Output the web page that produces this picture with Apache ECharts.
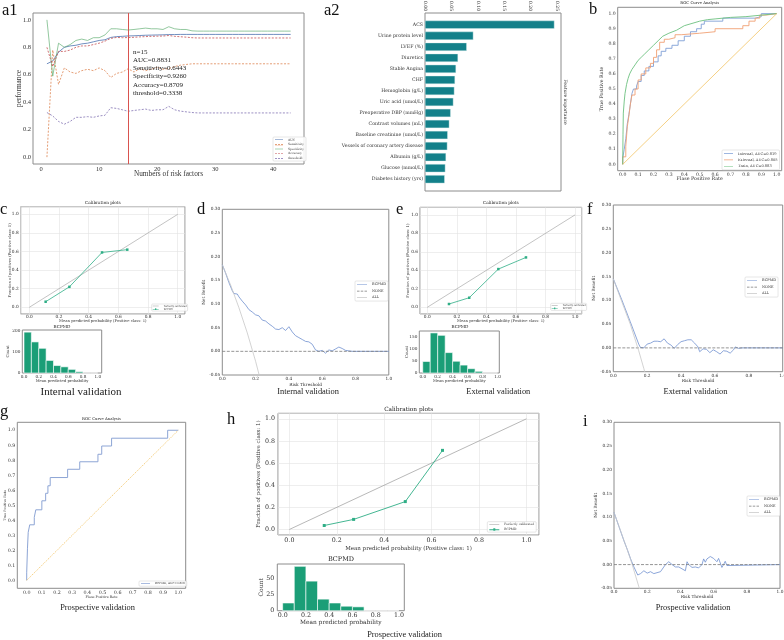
<!DOCTYPE html>
<html><head><meta charset="utf-8">
<script src="https://cdn.jsdelivr.net/npm/echarts@6/dist/echarts.min.js"></script>
<style>html,body{margin:0;padding:0;background:#fff}#c{width:784px;height:640px}</style>
</head><body><div id="c"></div>
<script>
// ================= DATA =================
// a1: performance vs number of risk factors
const riskFactorCounts = [1,2,3,4,5,6,7,8,9,10,11,12,13,14,15,16,17,18,19,20,21,22,23,24,25,26,27,28,29,30,31,32,33,34,35,36,37,38,39,40,41,42,43];
const aucValues = [0.680,0.700,0.765,0.800,0.810,0.815,0.825,0.830,0.840,0.850,0.855,0.872,0.878,0.880,0.883,0.884,0.886,0.888,0.889,0.890,0.891,0.893,0.893,0.894,0.894,0.894,0.894,0.894,0.894,0.894,0.894,0.894,0.894,0.894,0.894,0.894,0.894,0.894,0.894,0.894,0.894,0.894,0.894];
const sensitivityValues = [0.00,0.78,0.53,0.65,0.62,0.61,0.63,0.64,0.63,0.65,0.63,0.58,0.61,0.62,0.644,0.62,0.645,0.63,0.64,0.655,0.64,0.645,0.66,0.67,0.675,0.68,0.68,0.68,0.68,0.68,0.68,0.68,0.68,0.68,0.68,0.68,0.68,0.68,0.68,0.68,0.68,0.68,0.68];
const specificityValues = [1.00,0.59,0.83,0.80,0.82,0.85,0.86,0.85,0.87,0.87,0.89,0.935,0.935,0.93,0.926,0.93,0.935,0.94,0.935,0.935,0.93,0.95,0.935,0.93,0.93,0.92,0.918,0.918,0.918,0.918,0.918,0.918,0.918,0.918,0.918,0.918,0.918,0.918,0.918,0.918,0.918,0.918,0.918];
const accuracyValues = [0.80,0.66,0.77,0.77,0.78,0.80,0.81,0.81,0.82,0.83,0.845,0.865,0.872,0.870,0.871,0.873,0.876,0.878,0.880,0.881,0.882,0.886,0.880,0.877,0.874,0.870,0.868,0.868,0.868,0.868,0.868,0.868,0.868,0.868,0.868,0.868,0.868,0.868,0.868,0.868,0.868,0.868,0.868];
const thresholdValues = [0.325,0.30,0.26,0.24,0.26,0.29,0.29,0.295,0.29,0.30,0.305,0.36,0.355,0.345,0.334,0.34,0.345,0.35,0.34,0.345,0.345,0.37,0.345,0.335,0.33,0.325,0.322,0.322,0.322,0.322,0.322,0.322,0.322,0.322,0.322,0.322,0.322,0.322,0.322,0.322,0.322,0.322,0.322];
const selectedFactorCount = 15;
const a1Annotation = ['n=15','AUC=0.8831','Sensitivity=0.6443','Specificity=0.9260','Accuracy=0.8709','threshold=0.3338'];

// a2: feature importance
const featureNames = ['ACS','Urine protein level','LVEF (%)','Diuretics','Stable Angina','CHF','Hemoglobin (g/L)','Uric acid (umol/L)','Preoperative DBP (mmHg)','Contrast volumes (mL)','Baseline creatinine (umol/L)','Vessels of coronary artery disease','Albumin (g/L)','Glucose (mmol/L)','Diabetes history (yrs)'];
const featureImportance = [0.245,0.0915,0.079,0.0625,0.0587,0.0568,0.0556,0.0537,0.0486,0.046,0.043,0.0423,0.0398,0.0385,0.0373];

// b: ROC curves
const rocInternal = [[0,0],[0,0.04],[0.01,0.04],[0.01,0.10],[0.02,0.10],[0.02,0.17],[0.03,0.17],[0.03,0.27],[0.04,0.27],[0.04,0.33],[0.05,0.33],[0.05,0.40],[0.06,0.40],[0.06,0.47],[0.07,0.47],[0.07,0.50],[0.09,0.50],[0.09,0.52],[0.10,0.52],[0.10,0.55],[0.12,0.55],[0.12,0.59],[0.14,0.59],[0.14,0.62],[0.17,0.62],[0.17,0.65],[0.20,0.65],[0.20,0.68],[0.23,0.68],[0.23,0.72],[0.25,0.72],[0.25,0.75],[0.28,0.75],[0.28,0.77],[0.32,0.77],[0.32,0.79],[0.36,0.79],[0.36,0.82],[0.40,0.82],[0.40,0.85],[0.44,0.85],[0.44,0.88],[0.48,0.88],[0.48,0.90],[0.51,0.90],[0.51,0.93],[0.53,0.93],[0.53,0.95],[0.65,0.95],[0.65,0.97],[0.86,0.97],[0.86,0.98],[0.90,0.98],[0.90,1.0],[1.0,1.0]];
const rocExternal = [[0,0],[0,0.05],[0.02,0.05],[0.02,0.12],[0.03,0.12],[0.03,0.25],[0.04,0.25],[0.04,0.32],[0.05,0.32],[0.05,0.40],[0.06,0.40],[0.06,0.46],[0.08,0.46],[0.08,0.50],[0.10,0.50],[0.10,0.56],[0.12,0.56],[0.12,0.60],[0.15,0.60],[0.15,0.64],[0.18,0.64],[0.18,0.67],[0.20,0.67],[0.20,0.71],[0.22,0.71],[0.22,0.76],[0.24,0.76],[0.24,0.81],[0.27,0.81],[0.27,0.83],[0.30,0.83],[0.30,0.84],[0.34,0.84],[0.34,0.86],[0.38,0.86],[0.38,0.87],[0.50,0.87],[0.50,0.88],[0.60,0.88],[0.60,0.90],[0.78,0.90],[0.78,0.92],[0.82,0.92],[0.82,0.95],[0.86,0.95],[0.86,0.97],[0.89,0.97],[0.89,0.99],[0.93,0.99],[0.93,1.0],[1.0,1.0]];
const rocTrain = [[0,0],[0.002,0.2],[0.004,0.34],[0.01,0.42],[0.015,0.47],[0.025,0.53],[0.035,0.57],[0.045,0.6],[0.06,0.63],[0.08,0.66],[0.1,0.69],[0.12,0.71],[0.14,0.73],[0.17,0.76],[0.2,0.79],[0.23,0.82],[0.26,0.85],[0.3,0.87],[0.35,0.89],[0.4,0.92],[0.45,0.935],[0.5,0.95],[0.55,0.96],[0.6,0.965],[0.7,0.975],[0.8,0.98],[0.9,0.99],[1,1]];
const rocProspective = [[0,0],[0,0.05],[0.005,0.05],[0.005,0.21],[0.01,0.21],[0.01,0.32],[0.02,0.32],[0.02,0.37],[0.05,0.37],[0.05,0.42],[0.06,0.42],[0.06,0.47],[0.1,0.47],[0.1,0.53],[0.125,0.53],[0.125,0.58],[0.14,0.58],[0.14,0.63],[0.155,0.63],[0.155,0.685],[0.27,0.685],[0.27,0.74],[0.35,0.74],[0.35,0.79],[0.47,0.79],[0.47,0.84],[0.495,0.84],[0.495,0.895],[0.56,0.895],[0.56,0.947],[0.93,0.947],[0.93,1.0],[1,1]];
const diagonalLine = [[0,0],[1,1]];
const rocLegendNames = ['Internal, AUC=0.819','External, AUC=0.805','Train, AUC=0.883'];
const rocProspectiveName = 'BCPMD, AUC=0.806';

// calibration points
const calInternal = [[0.11,0.06],[0.27,0.22],[0.49,0.59],[0.66,0.62]];
const calExternal = [[0.147,0.036],[0.284,0.104],[0.481,0.414],[0.668,0.540]];
const calProspective = [[0.147,0.036],[0.271,0.091],[0.489,0.252],[0.646,0.715]];

// histograms of predicted probability (10 bins of width 0.1)
const histEdges = [0,0.1,0.2,0.3,0.4,0.5,0.6,0.7,0.8,0.9,1.0];
const histInternal = [192,146,116,59,35,29,17,6,0,0];
const histExternal = [48,167,157,85,49,33,18,7,0,0];
const histProspective = [12,69,46,18,12,7,6,0,0,0];

// decision curves
const dcaInternal = [[0,0.183],[0.02,0.165],[0.04,0.145],[0.06,0.128],[0.07,0.122],[0.08,0.124],[0.09,0.121],[0.10,0.115],[0.12,0.106],[0.14,0.098],[0.16,0.088],[0.18,0.083],[0.20,0.077],[0.22,0.075],[0.24,0.066],[0.26,0.064],[0.28,0.058],[0.30,0.053],[0.32,0.047],[0.34,0.046],[0.36,0.050],[0.38,0.044],[0.40,0.052],[0.42,0.041],[0.44,0.033],[0.46,0.029],[0.48,0.025],[0.50,0.021],[0.52,0.020],[0.54,0.015],[0.56,0.003],[0.58,0.000],[0.60,0.002],[0.62,-0.004],[0.64,0.003],[0.66,0.001],[0.68,0.005],[0.70,0.009],[0.72,0.006],[0.74,0.002],[0.76,0.001],[0.78,0.000],[1.0,0.0]];
const allInternal = [[0,0.183],[0.05,0.14],[0.10,0.092],[0.15,0.039],[0.20,-0.021],[0.25,-0.089]];
const dcaExternal = [[0,0.145],[0.05,0.101],[0.10,0.055],[0.15,0.008],[0.16,0.001],[0.18,0.000],[0.20,0.008],[0.22,0.010],[0.24,0.014],[0.26,0.014],[0.28,0.013],[0.30,0.019],[0.32,0.010],[0.34,0.006],[0.36,-0.001],[0.38,0.007],[0.40,0.013],[0.42,0.015],[0.44,0.017],[0.46,0.017],[0.48,0.010],[0.50,0.002],[0.51,-0.008],[0.53,-0.002],[0.55,-0.003],[0.57,-0.010],[0.59,-0.004],[0.61,-0.008],[0.63,-0.013],[0.65,-0.006],[0.67,-0.007],[0.69,-0.011],[0.71,-0.004],[0.72,0.002],[0.74,-0.001],[0.76,0.000],[1.0,0.0]];
const allExternal = [[0,0.145],[0.05,0.097],[0.10,0.05],[0.15,-0.006],[0.18,-0.043],[0.20,-0.069]];
const dcaProspective = [[0,0.11],[0.03,0.08],[0.06,0.05],[0.08,0.032],[0.10,0.012],[0.12,-0.005],[0.143,-0.022],[0.16,-0.019],[0.17,-0.016],[0.18,-0.013],[0.20,-0.018],[0.22,-0.015],[0.24,-0.019],[0.25,-0.015],[0.28,-0.015],[0.29,-0.012],[0.31,0.000],[0.33,0.006],[0.35,0.000],[0.37,-0.005],[0.39,-0.005],[0.41,-0.009],[0.43,-0.013],[0.44,0.006],[0.45,0.000],[0.47,-0.006],[0.49,-0.005],[0.51,-0.007],[0.53,0.000],[0.54,0.012],[0.55,0.005],[0.56,0.012],[0.58,0.017],[0.60,0.013],[0.61,0.010],[0.62,0.006],[0.63,0.013],[0.65,-0.006],[0.66,0.000],[0.67,0.007],[0.68,-0.002],[0.69,0.000],[1.0,0.0]];
const allProspective = [[0,0.11],[0.05,0.061],[0.10,0.011],[0.15,-0.047],[0.18,-0.085]];
const noneLine = [[0,0],[1,0]];

// ================= BUILD =================
const SERIF = 'DejaVu Serif';
const TIMES = 'Liberation Serif';
const FRAME = '#8c8c8c';
const TXT = '#333333';
const f1 = v => (+v).toFixed(1);
const f2 = v => (+v).toFixed(2);
const fi = v => String(Math.round(v));

// legend icons (path with hairline slivers top/bottom to fix the bounding box)
const LINE_ICON = 'path://M0,0H20V0.01H0Z M0,4H20V6H0Z M0,9.99H20V10H0Z';
const DASH_ICON = 'path://M0,0H20V0.01H0Z M0,4H5V6H0Z M7.5,4H12.5V6H7.5Z M15,4H20V6H15Z M0,9.99H20V10H0Z';
const MARK_ICON = 'path://M0,0H20V0.01H0Z M0,4H20V6H0Z M8,1.5H12V8.5H8Z M0,9.99H20V10H0Z';

const grids = [], xAxis = [], yAxis = [], series = [], legend = [], title = [];

function valueAxis(o) {
  return {
    type: 'value', min: o.min, max: o.max, interval: o.interval, splitNumber: o.split, position: o.pos,
    axisLine: {show: false}, axisTick: {show: false},
    splitLine: {show: !!o.grid, lineStyle: {color: '#e2e2e2', width: 0.6}},
    splitArea: {show: false},
    axisLabel: {show: o.labels !== false, fontSize: o.fs, fontFamily: o.ff || SERIF, color: TXT,
      margin: o.margin == null ? 2 : o.margin, formatter: o.fmt, showMinLabel: !!o.showMin, showMaxLabel: !!o.showMax,
      rotate: o.rotate || 0, hideOverlap: false},
    name: o.name || '', nameLocation: 'middle', nameGap: o.gap || 0, nameRotate: o.nameRotate,
    nameMoveOverlap: false,
    nameTextStyle: {fontSize: o.nfs, fontFamily: o.ff || SERIF, color: TXT},
    silent: true
  };
}
function addGrid(box, xa, ya, show) {
  const i = grids.length;
  const s = show !== false;
  grids.push({left: box[0], top: box[1], width: box[2], height: box[3], show: s, borderColor: FRAME,
    borderWidth: s ? 1 : 0, backgroundColor: 'rgba(0,0,0,0)', containLabel: false, outerBoundsMode: 'none'});
  xa.gridIndex = i; ya.gridIndex = i;
  xAxis.push(xa); yAxis.push(ya);
  return i;
}
function addLine(gi, name, data, color, o) {
  o = o || {};
  series.push({type: 'line', name: name, xAxisIndex: gi, yAxisIndex: gi, data: data,
    symbol: o.symbol || 'none', symbolSize: o.ss || 3, showSymbol: !!o.symbol,
    itemStyle: {color: color}, lineStyle: {color: color, width: o.w || 0.8, type: o.type || 'solid', opacity: o.op == null ? 1 : o.op},
    silent: true, z: o.z || 2, clip: true, markLine: o.markLine, emphasis: {disabled: true}});
}
function addHist(gi, counts) {
  series.push({type: 'custom', name: 'hist', xAxisIndex: gi, yAxisIndex: gi,
    data: counts.map((c, i) => [histEdges[i], histEdges[i + 1], c]),
    encode: {x: [0, 1], y: 2}, silent: true,
    renderItem: function (params, api) {
      const a = api.coord([api.value(0), 0]);
      const b = api.coord([api.value(1), api.value(2)]);
      return {type: 'rect', shape: {x: a[0], y: b[1], width: b[0] - a[0], height: a[1] - b[1]},
        style: {fill: '#1b9e77', stroke: '#ffffff', lineWidth: 0.6}};
    }});
}
function addLegend(items, left, top, o) {
  legend.push({show: true,
    data: items.map(it => typeof it === 'string' ? {name: it, icon: LINE_ICON} : it),
    left: left, top: top, orient: 'vertical', itemGap: o.gap, itemWidth: o.iw,
    itemHeight: o.ih || 3, padding: o.pad || [1, 2], selectedMode: false, symbolKeepAspect: false,
    itemStyle: {borderWidth: 0},
    textStyle: {fontSize: o.fs, fontFamily: SERIF, color: TXT, lineHeight: o.fs * 1.15},
    borderColor: '#cccccc', borderWidth: 0.5, borderRadius: 1, backgroundColor: 'rgba(255,255,255,0.85)', z: 10});
}
function addText(text, x, y, fs, ff, align, extra) {
  title.push({text: text, left: x, top: y, textAlign: align || 'center', textVerticalAlign: 'middle', padding: 0, itemGap: 0,
    textStyle: Object.assign({fontSize: fs, fontFamily: ff, fontWeight: 'normal', color: '#222'}, extra || {})});
}

// ---------- a1 ----------
{
  const g = addGrid([33, 13, 271, 151],
    valueAxis({min: -1.4, max: 45.3, split: 5, fs: 6.5, ff: TIMES, fmt: fi, name: 'Numbers of risk factors', nfs: 7.3, gap: 7}),
    valueAxis({min: -0.05, max: 1.05, split: 5, fs: 6.5, ff: TIMES, fmt: f1, name: 'performance', nfs: 7.3, gap: 10}));
  const pts = arr => riskFactorCounts.map((n, i) => [n, arr[i]]);
  addLine(g, 'AUC', pts(aucValues), '#4c72b0', {w: 0.8,
    markLine: {symbol: 'none', silent: true, label: {show: false}, lineStyle: {color: '#d9534f', width: 1, type: 'solid'},
      data: [{xAxis: selectedFactorCount}], animation: false}});
  addLine(g, 'Sensitivity', pts(sensitivityValues), '#dd8452', {type: [2, 1.5]});
  addLine(g, 'Specificity', pts(specificityValues), '#55a868', {op: 0.8});
  addLine(g, 'Accuracy', pts(accuracyValues), '#c44e52', {type: [2, 1.5]});
  addLine(g, 'threshold', pts(thresholdValues), '#8172b3', {type: [2, 1.5]});
  addLegend(['AUC', {name: 'Sensitivity', icon: DASH_ICON}, 'Specificity', {name: 'Accuracy', icon: DASH_ICON}, {name: 'threshold', icon: DASH_ICON}],
    273, 137, {gap: 1.2, iw: 8, ih: 3, fs: 3, pad: [1, 2]});
  addText(a1Annotation.join('\n'), 133, 72.5, 7, TIMES, 'left', {lineHeight: 8.3});
}
// ---------- a2 ----------
{
  addGrid([425, 13, 136, 178],
    valueAxis({min: 0, max: 0.2575, interval: 0.05, pos: 'top', fs: 4.5, fmt: f2, rotate: -90, showMin: true, margin: 2}),
    valueAxis({min: 0, max: 1, pos: 'right', labels: false, name: 'Feature importance', nameRotate: -90, nfs: 4.5, gap: 2}));
  const g = addGrid([425, 19.2, 136, 165.5],
    valueAxis({min: 0, max: 0.2575, labels: false}),
    {type: 'category', data: featureNames, inverse: true, axisLine: {show: false}, axisTick: {show: false},
      axisLabel: {fontSize: 4.7, fontFamily: SERIF, color: TXT, margin: 2}, silent: true}, false);
  series.push({type: 'bar', name: 'importance', xAxisIndex: g, yAxisIndex: g, data: featureImportance, barWidth: '74%',
    itemStyle: {color: '#13808a', borderColor: '#dff0f0', borderWidth: 0.4}, silent: true});
}
// ---------- b ----------
{
  const g = addGrid([617.7, 7.3, 164, 163.4],
    valueAxis({min: -0.0325, max: 1.0325, split: 10, fs: 4.6, fmt: f1, name: 'Flase Positive Rate', nfs: 4.8, gap: 6}),
    valueAxis({min: -0.042, max: 1.042, split: 10, fs: 4.6, fmt: f1, name: 'True Positive Rate', nfs: 4.8, gap: 13.5}));
  addLine(g, rocLegendNames[0], rocInternal, '#7f9fd6', {w: 0.9});
  addLine(g, rocLegendNames[1], rocExternal, '#f0a074', {w: 0.9});
  addLine(g, rocLegendNames[2], rocTrain, '#6cc17f', {w: 0.9});
  addLine(g, 'diag_b', diagonalLine, '#f2c464', {w: 0.8});
  addLegend(rocLegendNames, 722, 150, {gap: 2.2, iw: 9, ih: 3.5, fs: 3.6, pad: [1.5, 2]});
  addText('ROC Curve Analysis', 699.7, 3.5, 3.8, SERIF);
}
// ---------- c ----------
{
  const g = addGrid([20.7, 206.7, 164.3, 107.3],
    valueAxis({min: -0.058, max: 1.049, split: 5, fs: 4.3, fmt: f1, grid: true, margin: 1, name: 'Mean predicted probability (Positive class: 1)', nfs: 3.8, gap: 4.8}),
    valueAxis({min: -0.072, max: 1.082, split: 5, fs: 4.3, fmt: f1, grid: true, name: 'Fraction of positives (Positive class: 1)', nfs: 3.8, gap: 8.8}));
  addLine(g, 'Perfectly calibrated', diagonalLine, '#9a9a9a', {w: 0.6});
  addLine(g, 'BCPMD ', calInternal, '#2fae86', {symbol: 'rect', ss: 2.5, w: 0.8});
  addLegend(['Perfectly calibrated', {name: 'BCPMD ', icon: MARK_ICON}], 151.7, 304, {gap: 0.6, iw: 6, ih: 2.5, fs: 2.3, pad: [0.6, 1]});
  addText('Calibration plots', 102.8, 203, 4.2, SERIF);
  const h = addGrid([22.3, 330, 79.4, 43],
    valueAxis({min: -0.023, max: 1.054, split: 5, fs: 4.2, fmt: f1, margin: 1.5, name: 'Mean predicted probability', nfs: 3.8, gap: 6}),
    valueAxis({min: 0, max: 202, interval: 100, fs: 4.2, fmt: fi, showMin: true, name: 'Count', nfs: 4, gap: 12}));
  addHist(h, histInternal);
  addText('BCPMD', 62, 327.3, 4.2, SERIF);
}
// ---------- d ----------
function dcaPanel(box, curve, allCurve, legendPos, gaps) {
  const g = addGrid(box,
    valueAxis({min: 0, max: 1, interval: 0.2, fs: 4.3, fmt: f1, showMin: true, showMax: true, name: 'Risk Threshold', nfs: 4.3, gap: gaps[0]}),
    valueAxis({min: -0.05, max: 0.30, interval: 0.05, fs: 4.3, fmt: f2, showMin: true, showMax: true, name: 'Net Benefit', nfs: 4.3, gap: gaps[1]}));
  addLine(g, 'BCPMD', curve, '#6f8fcf', {w: 0.8});
  addLine(g, 'NONE', noneLine, '#7a7a7a', {w: 0.8, type: [3, 1.5]});
  addLine(g, 'ALL', allCurve, '#c8c8c8', {w: 0.8});
  addLegend(['BCPMD', {name: 'NONE', icon: DASH_ICON}, 'ALL'], legendPos[0], legendPos[1], {gap: 2.5, iw: 10, ih: 3.5, fs: 3.5, pad: [1.5, 2]});
}
dcaPanel([222.3, 209.3, 166.5, 165.7], dcaInternal, allInternal, [355, 281], [8, 16.8]);
// ---------- e ----------
{
  const g = addGrid([420, 207.3, 161.7, 106.7],
    valueAxis({min: -0.049, max: 1.045, split: 5, fs: 4.3, fmt: f1, grid: true, margin: 1, name: 'Mean predicted probability (Positive class: 1)', nfs: 3.8, gap: 5}),
    valueAxis({min: -0.072, max: 1.082, split: 5, fs: 4.3, fmt: f1, grid: true, name: 'Fraction of positives (Positive class: 1)', nfs: 3.8, gap: 10.4}));
  addLine(g, 'Perfectly calibrated', diagonalLine, '#9a9a9a', {w: 0.6});
  addLine(g, 'BCPMD ', calExternal, '#2fae86', {symbol: 'rect', ss: 2.5, w: 0.8});
  addLegend(['Perfectly calibrated', {name: 'BCPMD ', icon: MARK_ICON}], 550.7, 303.3, {gap: 0.6, iw: 6, ih: 2.5, fs: 2.3, pad: [0.6, 1]});
  addText('Calibration plots', 500.8, 203, 4.2, SERIF);
  const h = addGrid([419.3, 331, 80, 42],
    valueAxis({min: -0.046, max: 1.024, split: 5, fs: 4.2, fmt: f1, margin: 1.5, name: 'Mean predicted probability', nfs: 3.8, gap: 6}),
    valueAxis({min: 0, max: 175, interval: 50, fs: 4.2, fmt: fi, showMin: true, name: 'Count', nfs: 4, gap: 10.6}));
  addHist(h, histExternal);
  addText('BCPMD', 460, 327.3, 4.2, SERIF);
}
// ---------- f ----------
dcaPanel([613.3, 205, 169.4, 166.7], dcaExternal, allExternal, [745, 277], [7.2, 17.8]);
// ---------- g ----------
{
  const g = addGrid([17.3, 422.3, 168.4, 166],
    valueAxis({min: -0.062, max: 1.049, split: 10, fs: 4.8, fmt: f1, name: 'Flase Positive Rate', nfs: 3.3, gap: 7.7}),
    valueAxis({min: -0.053, max: 1.053, split: 10, fs: 4.8, fmt: f1, name: 'True Positive Rate', nfs: 3.3, gap: 10.3}));
  addLine(g, rocProspectiveName, rocProspective, '#8da5d5', {w: 1});
  addLine(g, 'diag_g', diagonalLine, '#f2c464', {w: 0.8, type: [1.5, 1]});
  addLegend([rocProspectiveName], 139, 581, {gap: 1, iw: 9, ih: 3, fs: 2.8, pad: [1, 2]});
  addText('ROC Curve Analysis', 101.5, 419.5, 3.8, SERIF);
}
// ---------- h ----------
{
  const g = addGrid([278, 413.3, 261, 121.7],
    valueAxis({min: -0.048, max: 1.053, split: 5, fs: 6.3, fmt: f1, grid: true, margin: 2, name: 'Mean predicted probability (Positive class: 1)', nfs: 5.5, gap: 11}),
    valueAxis({min: -0.05, max: 1.05, split: 5, fs: 6.3, fmt: f1, grid: true, margin: 3, name: 'Fraction of positives (Positive class: 1)', nfs: 5.5, gap: 16}));
  addLine(g, 'Perfectly calibrated', diagonalLine, '#9a9a9a', {w: 0.7});
  addLine(g, 'BCPMD ', calProspective, '#2fae86', {symbol: 'rect', ss: 3, w: 0.9});
  addLegend(['Perfectly calibrated', {name: 'BCPMD ', icon: MARK_ICON}], 487.3, 521.7, {gap: 1.5, iw: 10, ih: 3, fs: 3, pad: [1, 2]});
  addText('Calibration plots', 408.7, 409.5, 5.8, SERIF);
  const h = addGrid([277.3, 564, 127, 46.7],
    valueAxis({min: -0.046, max: 1.046, split: 5, fs: 6.3, fmt: f1, margin: 2, name: 'Mean predicted probability', nfs: 5.9, gap: 9}),
    valueAxis({min: 0, max: 72.6, interval: 25, fs: 6.3, fmt: fi, showMin: true, margin: 3, name: 'Count', nfs: 6, gap: 12.6}));
  addHist(h, histProspective);
  addText('BCPMD', 341, 559, 6.5, SERIF);
}
// ---------- i ----------
dcaPanel([614, 422.3, 166, 166], dcaProspective, allProspective, [747, 496], [6.3, 16.1]);

// ---------- captions & panel labels ----------
addText('Internal validation', 81, 391.7, 11, TIMES);
addText('Internal validation', 308, 392.3, 8.4, TIMES);
addText('External validation', 498.3, 392, 8.4, TIMES);
addText('External validation', 695.5, 392.3, 8.4, TIMES);
addText('Prospective validation', 97.5, 607.7, 8.4, TIMES);
addText('Prospective validation', 404.5, 635, 8.4, TIMES);
addText('Prospective validation', 693, 608.3, 8.4, TIMES);
const panelLabels = [['a1', 2, 10.6], ['a2', 324, 10.6], ['b', 589, 9.6], ['c', 0, 209.6], ['d', 197, 209.6], ['e', 396, 209.6], ['f', 587, 209.6], ['g', 0, 411.3], ['h', 227, 419.6], ['i', 583, 421.6]];
panelLabels.forEach(p => addText(p[0], p[1], p[2], 16.5, TIMES, 'left', {color: '#111'}));

const chart = echarts.init(document.getElementById('c'), null, {renderer: 'canvas', width: 784, height: 640});
chart.setOption({
  backgroundColor: '#ffffff', animation: false,
  title: title, grid: grids, xAxis: xAxis, yAxis: yAxis, series: series, legend: legend,
  tooltip: {show: false}
});
</script></body></html>
